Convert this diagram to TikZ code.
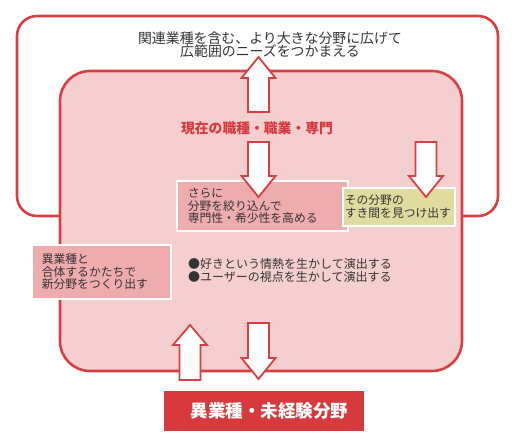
\documentclass[tikz,border=0pt]{standalone}
\usepackage{fontspec}
\setmainfont{Noto Sans CJK JP}
\definecolor{redline}{HTML}{D93F42}
\definecolor{innerpink}{HTML}{F5CFCF}
\definecolor{boxpink}{HTML}{EEACAD}
\definecolor{boxyellow}{HTML}{E0DC9F}
\definecolor{bottomred}{HTML}{D63A3C}
\definecolor{textgray}{HTML}{333333}
\definecolor{titlered}{HTML}{D9393C}
\tikzset{
  frame/.style={draw=redline, line width=2.6pt},
  blockarrow/.style={draw=redline, fill=white, line width=1.8pt, line join=miter},
  txt/.style={font=\fontsize{12}{12.8}\selectfont, text=textgray, align=left, inner sep=0pt},
  infobox/.style={draw=white, line width=1.6pt, anchor=north west, align=left, inner ysep=0pt,
     font=\fontsize{11.8}{12.6}\selectfont, text=textgray},
}
\newcommand\myUpArrow[4]{% cx, tip, headbase, bottom
  \draw[blockarrow] ({#1-10.5},#4) -- ({#1-10.5},#3) -- ({#1-17},#3) -- (#1,#2) -- ({#1+17},#3) -- ({#1+10.5},#3) -- ({#1+10.5},#4) -- cycle;}
\newcommand\myDownArrow[4]{% cx, top, headbase, tip
  \draw[blockarrow] ({#1-10.5},#2) -- ({#1-10.5},#3) -- ({#1-17},#3) -- (#1,#4) -- ({#1+17},#3) -- ({#1+10.5},#3) -- ({#1+10.5},#2) -- cycle;}
\begin{document}
\begin{tikzpicture}[x=1pt,y=-1pt]
\useasboundingbox (0,0) rectangle (516,445);
% outer frame
\draw[frame, fill=white, rounded corners=20pt] (17,16) rectangle (498,216);
% inner frame
\draw[frame, fill=innerpink, rounded corners=30pt] (60,71) rectangle (462,371);
% top text
\node[font=\fontsize{13.9}{13.4}\selectfont, text=textgray, align=center, inner sep=0pt] (wide) at (270,44.5)
  {関連業種を含む、より大きな分野に広げて\\広範囲のニーズをつかまえる};
% current field
\node[font=\fontsize{13.8}{14}\selectfont\bfseries, text=titlered, inner sep=0pt] (current) at (257,128) {現在の職種・職業・専門};
% boxes
\node[infobox, fill=boxpink, minimum width=171pt, minimum height=50pt, text width=149pt, inner xsep=11pt] (narrow) at (176,180)
  {さらに\\分野を絞り込んで\\専門性・希少性を高める};
\node[infobox, fill=boxyellow, minimum width=112pt, minimum height=38pt, text width=108pt, inner xsep=2pt] (gap) at (342,187)
  {その分野の\\すき間を見つけ出す};
\node[infobox, fill=boxpink, minimum width=139pt, minimum height=54pt, text width=119pt, inner xsep=10pt] (merge) at (31,244)
  {異業種と\\合体するかたちで\\新分野をつくり出す};
\node[txt, anchor=west] (bullets) at (188,270.5)
  {●好きという情熱を生かして演出する\\●ユーザーの視点を生かして演出する};
% bottom box
\node[fill=bottomred, minimum width=200pt, minimum height=40pt, inner sep=0pt, text=white,
  font=\fontsize{17.5}{18}\selectfont\bfseries] (other) at (264,411) {\hspace{11pt}異業種・未経験分野};
% arrows
\myUpArrow{258.5}{57}{78}{112}
\myDownArrow{258.5}{142}{176}{197}
\myDownArrow{426}{142}{176}{197}
\myUpArrow{190}{325}{345}{380}
\myDownArrow{258.5}{323}{358}{379}
\end{tikzpicture}
\end{document}
